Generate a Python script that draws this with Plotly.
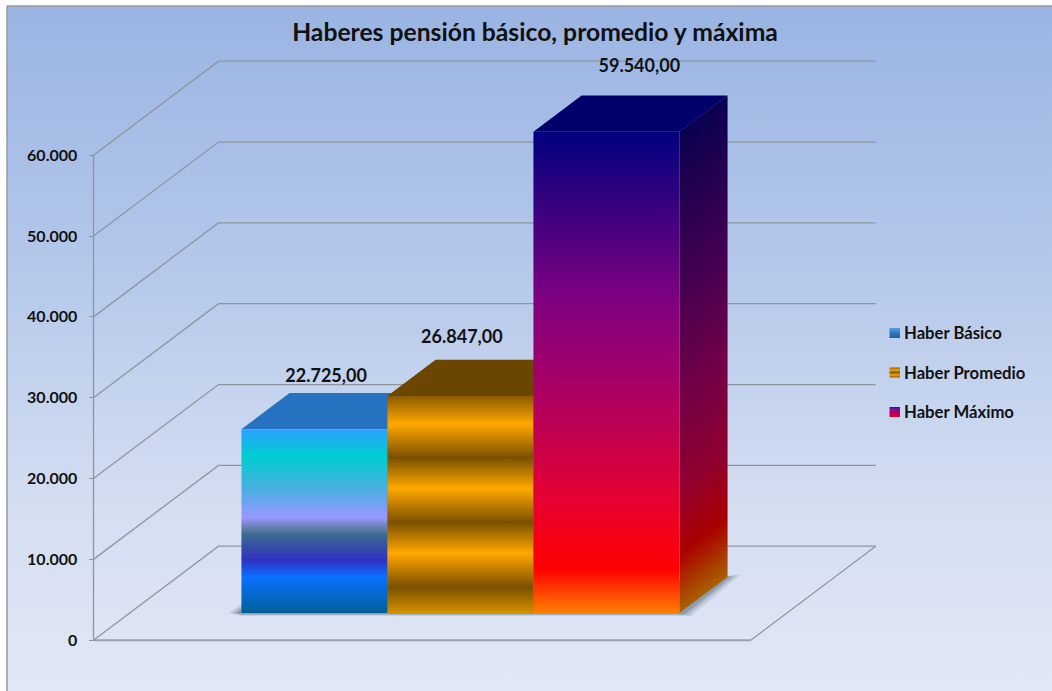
import plotly.graph_objects as go

title = "Haberes pensión básico, promedio y máxima"
series = ["Haber Básico", "Haber Promedio", "Haber Máximo"]
values = [22725, 26847, 59540]
ticks = [0, 10000, 20000, 30000, 40000, 50000, 60000]

front_scales = [
    [[0, "#006098"], [.196, "#0a70ff"], [.288, "#3030c0"], [.424, "#3a6a90"], [.467, "#6a7fb0"], [.52, "#9898ff"],
     [.685, "#45b0e0"], [.853, "#00cdd0"], [1, "#2aa0ff"]],
    [[0, "#d49000"], [.119, "#7a5000"], [.275, "#ffa800"], [.417, "#7a5000"], [.573, "#ffa800"], [.716, "#7a5000"],
     [.87, "#ffa800"], [1, "#8a5a00"]],
    [[0, "#ff8000"], [.09, "#ff0000"], [.23, "#e80030"], [.44, "#b00060"], [.648, "#800080"], [1, "#00007f"]],
]
side_scales = [
    [[0, "#004070"], [1, "#104080"]],
    [[0, "#805000"], [1, "#503000"]],
    [[0, "#a86000"], [.12, "#aa0000"], [.26, "#900030"], [.46, "#700048"], [.66, "#480050"], [1, "#0a0050"]],
]
top_colors = ["#2672c0", "#6a4600", "#00006a"]
key_scales = [
    [[0, "#1f5f9e"], [.5, "#2f78bd"], [1, "#5a9fe0"]],
    [[0, "#8a5a00"], [.25, "#f0a810"], [.5, "#8a5a00"], [.75, "#f0a810"], [1, "#8a5a00"]],
    [[0, "#e00030"], [.45, "#b00060"], [.8, "#7a10a8"], [1, "#30108a"]],
]
key_centers_px = [333, 372.5, 412]

# geometry of the oblique projection, in canvas pixels
AX_PX, ZERO_PX, SPAN_PX = 93.5, 640.2, 485.0
UNIT_PX = 146.0
W = 657.2 / UNIT_PX
GAP = 0.765
DEPTH_X = 125 / UNIT_PX
DEPTH_Y = 94 / SPAN_PX * 60000
D_FRONT, D_BACK = 0.29, 0.675


def X(px):
    return (px - AX_PX) / UNIT_PX


def Y(py):
    return (ZERO_PX - py) / SPAN_PX * 60000


def proj(u, v, d):
    return u + d * DEPTH_X, v + d * DEPTH_Y


def poly(points, **kw):
    xs = [p[0] for p in points] + [points[0][0]]
    ys = [p[1] for p in points] + [points[0][1]]
    return go.Scatter(x=xs, y=ys, mode="lines", fill="toself", line=dict(width=0), hoverinfo="skip",
                      showlegend=False, **kw)


def line(points, width=1.3, color="#8f959c"):
    return go.Scatter(x=[p[0] for p in points], y=[p[1] for p in points], mode="lines",
                      line=dict(width=width, color=color), hoverinfo="skip", showlegend=False)


fig = go.Figure()

# background panel
L, T, R, B = X(7), Y(6), X(1060), Y(700)
fig.add_trace(go.Scatter(
    x=[L, R, R, L, L], y=[T, T, B, B, T], mode="lines", fill="toself",
    line=dict(width=1.5, color="#9a9a9a"), hoverinfo="skip", showlegend=False,
    fillgradient=dict(type="vertical", start=Y(691), stop=Y(6),
                      colorscale=[[0, "#e1e7f6"], [.25, "#d5dff1"], [.65, "#b2c6ea"], [1, "#9ab4e2"]])))

# walls and floor
for t in ticks:
    a = (0, t)
    b = proj(0, t, 1)
    c = proj(W, t, 1)
    fig.add_trace(line([a, b, c]))
fig.add_trace(line([(0, 0), (0, ticks[-1])]))
fig.add_trace(line([(W, 0), proj(W, 0, 1)]))
fig.add_trace(line([(0, 0), (W, 0)], width=2, color="#9aa0a8"))

# soft contact shadow on the floor
x_start = GAP
x_end = GAP + len(values)
s0 = proj(x_start, 0, D_FRONT)
s1 = proj(x_end, 0, D_FRONT)
s2 = proj(x_end, 0, D_BACK)
pad_x, pad_y = 1 / UNIT_PX, 1 / SPAN_PX * 60000
for k, alpha in [(1.0, .14), (.72, .2), (.45, .3)]:
    fig.add_trace(poly([(s0[0] - 13 * k * pad_x, s0[1]), (s0[0], s0[1] + 9 * k * pad_y),
                        (s2[0], s2[1]), (s2[0] + 13 * k * pad_x, s2[1] + 2 * pad_y),
                        (s1[0] + 12 * k * pad_x, s1[1] - 3 * k * pad_y),
                        (s0[0], s0[1] - 3 * k * pad_y)],
                       fillcolor=f"rgba(70,90,105,{alpha})"))

# bars
N_COL = 16
for i, v in enumerate(values):
    x0, x1 = GAP + i, GAP + i + 1
    # side face, in columns so that the gradient follows the slant
    for c in range(N_COL):
        d_a = D_FRONT + (D_BACK - D_FRONT) * c / N_COL
        d_b = D_FRONT + (D_BACK - D_FRONT) * (c + 1.25) / N_COL
        d_b = min(d_b, D_BACK)
        base = proj(x1, 0, (d_a + d_b) / 2)[1]
        fig.add_trace(poly([proj(x1, 0, d_a), proj(x1, 0, d_b), proj(x1, v, d_b), proj(x1, v, d_a)],
                           fillgradient=dict(type="vertical", start=base, stop=base + v,
                                             colorscale=side_scales[i])))
    # top face
    fig.add_trace(poly([proj(x0, v, D_FRONT), proj(x1, v, D_FRONT), proj(x1, v, D_BACK), proj(x0, v, D_BACK)],
                       fillcolor=top_colors[i]))
    # front face
    base = proj(x0, 0, D_FRONT)[1]
    fig.add_trace(poly([proj(x0, 0, D_FRONT), proj(x1, 0, D_FRONT), proj(x1, v, D_FRONT), proj(x0, v, D_FRONT)],
                       name=series[i],
                       fillgradient=dict(type="vertical", start=base, stop=base + v,
                                         colorscale=front_scales[i])))

# data labels
label_dx = [0.08, 0.01, 0.225]
label_dy = [6450, 7050, 7910]
fig.add_trace(go.Scatter(
    x=[GAP + i + .5 + label_dx[i] + D_FRONT * DEPTH_X for i in range(3)],
    y=[v + label_dy[i] + D_FRONT * DEPTH_Y for i, v in enumerate(values)],
    mode="text",
    text=[f"{v:,.2f}".replace(",", "X").replace(".", ",").replace("X", ".") for v in values],
    textposition="middle center",
    textfont=dict(family="Lato", size=18, color="#111111", weight="bold"),
    hoverinfo="skip", showlegend=False))

# legend keys (drawn next to the legend text) and legend entries
for i, name in enumerate(series):
    cy = key_centers_px[i]
    fig.add_trace(poly([(X(889.5), Y(cy + 5)), (X(900), Y(cy + 5)), (X(900), Y(cy - 5)), (X(889.5), Y(cy - 5))],
                       fillgradient=dict(type="vertical", start=Y(cy + 5), stop=Y(cy - 5),
                                         colorscale=key_scales[i])))
    fig.add_trace(go.Scatter(
        x=[None], y=[None], mode="markers", name=name, legendgroup=name,
        marker=dict(symbol="square", size=10, color="rgba(0,0,0,0)", line=dict(width=0))))

fig.update_layout(
    width=1052, height=691, margin=dict(l=0, r=0, t=0, b=0, pad=0),
    paper_bgcolor="#ffffff", plot_bgcolor="rgba(0,0,0,0)", separators=",.",
    font=dict(family="Lato", color="#111111"),
    title=dict(text=f"<b>{title}</b>", x=535 / 1052, y=1 - 32 / 691, xanchor="center", yanchor="middle",
               font=dict(family="Lato", size=24.7, color="#111111")),
    xaxis=dict(visible=False, range=[X(0), X(1052)], domain=[0, 1], fixedrange=True),
    yaxis=dict(range=[Y(691), Y(0)], domain=[0, 1], tickvals=ticks, tickformat=",d", anchor="free",
               position=AX_PX / 1052, showgrid=False, zeroline=False, showline=False, ticks="outside",
               ticklen=5, tickwidth=1.3, tickcolor="#8f959c", ticklabelstandoff=8, fixedrange=True,
               tickfont=dict(family="Lato", size=16, color="#111111", weight="bold")),
    legend=dict(x=864 / 1052, y=1 - 315 / 691, xanchor="left", yanchor="top", bgcolor="rgba(0,0,0,0)",
                tracegroupgap=15, font=dict(family="Lato", size=16.7, color="#111111", weight="bold")),
    showlegend=True,
)

fig.write_html("out.html", config=dict(displayModeBar=False),
               post_script="document.body.style.margin='0';document.body.style.overflow='hidden';")
